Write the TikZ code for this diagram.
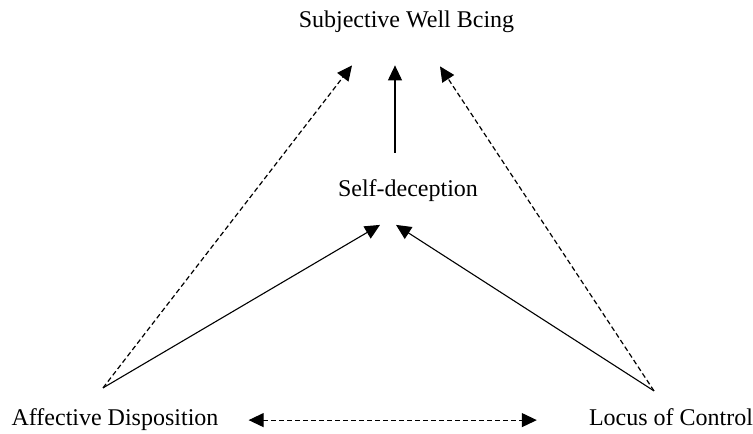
\documentclass[tikz,border=0pt]{standalone}
\usepackage{fontspec}
\setmainfont{Liberation Serif}
\usetikzlibrary{arrows.meta}
\begin{document}
\begin{tikzpicture}[x=1pt,y=-1pt,
  lbl/.style={anchor=base,inner sep=0pt,font=\fontsize{24}{28}\selectfont},
  conn/.style={line width=1.1pt,-{Triangle[length=15pt,width=14pt]}},
  dconn/.style={conn,line width=1.2pt,dash pattern=on 5pt off 3pt}]
\useasboundingbox (0,0) rectangle (753,434);
\node[lbl] (swb) at (406.5,27) {Subjective Well Bcing};
\node[lbl] (sd) at (408,196) {Self-deception};
\node[lbl] (ad) at (115,425) {Affective Disposition};
\node[lbl] (loc) at (671,425) {Locus of Control};
% connector end points, relative to the nodes
\coordinate (adtop) at ([xshift=-12pt,yshift=20pt]ad.north);
\coordinate (loctop) at ([xshift=-17pt,yshift=17pt]loc.north);
\coordinate (sdtop) at ([xshift=-13pt,yshift=26pt]sd.north);
\coordinate (sdleft) at ([xshift=-28pt,yshift=-46pt]sd.north);
\coordinate (sdright) at ([xshift=-12pt,yshift=-46pt]sd.north);
\coordinate (swbleft) at ([xshift=-54.5pt,yshift=-33pt]swb.south);
\coordinate (swbmid) at ([xshift=-11.5pt,yshift=-33pt]swb.south);
\coordinate (swbright) at ([xshift=33.5pt,yshift=-34pt]swb.south);
\coordinate (adright) at ([xshift=30pt,yshift=-1pt]ad.east);
\coordinate (locleftx) at ([xshift=-52pt]loc.west);
\coordinate (locleft) at (adright -| locleftx);
\draw[dconn] (adtop) -- (swbleft);
\draw[conn] (adtop) -- (sdleft);
\draw[conn] (sdtop) -- (swbmid);
\draw[dconn] (loctop) -- (swbright);
\draw[conn] (loctop) -- (sdright);
\draw[dconn,{Triangle[length=15pt,width=14pt]}-{Triangle[length=15pt,width=14pt]}] (adright) -- (locleft);
\end{tikzpicture}
\end{document}
